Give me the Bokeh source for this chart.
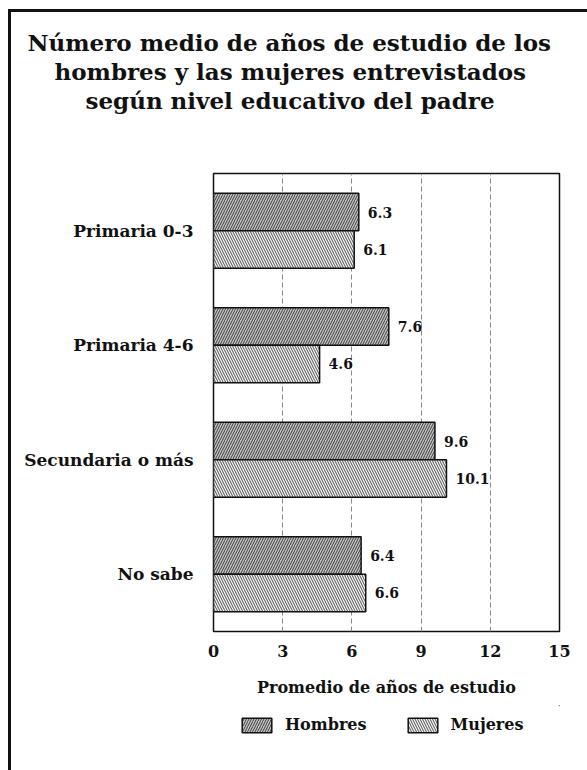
from bokeh.plotting import figure
from bokeh.layouts import column
from bokeh.models import (FactorRange, FixedTicker, Legend, LegendItem, ColumnDataSource,
                          Title, Range1d)
from bokeh.transform import dodge
from bokeh.core.properties import value
from bokeh.embed import file_html
from bokeh.resources import INLINE

# ---- data ----
categories = ["Primaria 0-3", "Primaria 4-6", "Secundaria o más", "No sabe"]
hombres = [6.3, 7.6, 9.6, 6.4]
mujeres = [6.1, 4.6, 10.1, 6.6]
x_ticks = [0, 3, 6, 9, 12, 15]
title_lines = [
    "Número medio de años de estudio de los",
    "hombres y las mujeres entrevistados",
    "según nivel educativo del padre",
]
x_title = "Promedio de años de estudio"
series_names = ["Hombres", "Mujeres"]

FONT = "DejaVu Serif"
INK = "#111111"

H_STYLE = dict(fill_color="#c4c4c4", line_color=INK, line_width=1.5,
               hatch_pattern="/", hatch_color="#3a3a3a", hatch_scale=5, hatch_weight=1)
M_STYLE = dict(fill_color="white", line_color=INK, line_width=1.5,
               hatch_pattern="\\", hatch_color="#6a6a6a", hatch_scale=5, hatch_weight=1.2)

src = ColumnDataSource(dict(
    cat=categories,
    h=hombres,
    m=mujeres,
    hl=[f"{v:.1f}" for v in hombres],
    ml=[f"{v:.1f}" for v in mujeres],
))

p = figure(
    width=587, height=705,
    y_range=FactorRange(factors=list(reversed(categories))),
    x_range=(0, 15),
    output_backend="svg", toolbar_location=None,
    min_border_left=213, min_border_top=173,
    min_border_right=28, min_border_bottom=74,
)
p.title = None
p.background_fill_color = "white"
p.border_fill_alpha = 0
p.outline_line_color = INK
p.outline_line_width = 1.5

bh = 0.327
d = bh / 2
rh = p.hbar(y=dodge("cat", d, range=p.y_range), right="h", left=0, height=bh,
            source=src, **H_STYLE)
rm = p.hbar(y=dodge("cat", -d, range=p.y_range), right="m", left=0, height=bh,
            source=src, **M_STYLE)

for col, lab, off in (("h", "hl", d), ("m", "ml", -d)):
    p.text(x=col, y=dodge("cat", off, range=p.y_range), text=lab, source=src, x_offset=9,
           text_baseline="middle", text_font=value(FONT), text_font_style="bold",
           text_font_size="14px", text_color=INK)

# axes
p.xaxis.ticker = FixedTicker(ticks=x_ticks)
p.xaxis.axis_line_color = None
p.xaxis.major_tick_line_color = None
p.xaxis.minor_tick_line_color = None
p.xaxis.major_tick_out = 0
p.xaxis.major_tick_in = 0
p.xaxis.major_label_standoff = 13
p.xaxis.major_label_text_font = FONT
p.xaxis.major_label_text_font_style = "bold"
p.xaxis.major_label_text_font_size = "16px"
p.xaxis.major_label_text_color = INK
p.xaxis.axis_label = x_title
p.xaxis.axis_label_text_font = FONT
p.xaxis.axis_label_text_font_style = "bold"
p.xaxis.axis_label_text_font_size = "16px"
p.xaxis.axis_label_text_color = INK
p.xaxis.axis_label_standoff = 18

p.yaxis.axis_line_color = None
p.yaxis.major_tick_line_color = None
p.yaxis.major_tick_out = 0
p.yaxis.major_tick_in = 0
p.yaxis.major_label_standoff = 20
p.yaxis.major_label_text_font = FONT
p.yaxis.major_label_text_font_style = "bold"
p.yaxis.major_label_text_font_size = "17px"
p.yaxis.major_label_text_color = INK

p.ygrid.grid_line_color = None
p.xgrid.grid_line_color = "#8a8a8a"
p.xgrid.grid_line_dash = "5 3"
p.xgrid.grid_line_width = 1

# spacer between the frame and the title block
p.add_layout(Title(text=" ", standoff=57, text_font_size="1px"), "above")
# title lines: stacked above the spacer (closest first)
offsets = [-186, -159, -128]
for txt, off in reversed(list(zip(title_lines, offsets))):
    p.add_layout(Title(text=txt, align="left", offset=off, standoff=0,
                       text_font=FONT, text_font_style="bold", text_font_size="23px",
                       text_color=INK), "above")

# ---- legend strip below the chart (frame aligned with the chart frame) ----
lg = figure(width=587, height=65, x_range=Range1d(0, 1), y_range=Range1d(0, 1),
            x_axis_type=None, y_axis_type=None,
            output_backend="svg", toolbar_location=None,
            min_border_left=213, min_border_right=28, min_border_top=0, min_border_bottom=0)
lg.title = None
lg.outline_line_color = None
lg.background_fill_alpha = 0
lg.border_fill_alpha = 0
# legend proxies: one row each, far outside the visible range, so the swatch gets its style
proxy = ColumnDataSource(dict(y=[50], left=[50], right=[51]))
lh = lg.hbar(y="y", right="right", left="left", height=0.3, source=proxy, **H_STYLE)
lm = lg.hbar(y="y", right="right", left="left", height=0.3, source=proxy, **M_STYLE)
legend = Legend(items=[LegendItem(label=series_names[0], renderers=[lh], index=0),
                       LegendItem(label=series_names[1], renderers=[lm], index=0)],
                orientation="horizontal", location=(25, 36),
                glyph_width=37, glyph_height=18, label_height=18,
                label_standoff=10, spacing=37, padding=0, margin=0,
                border_line_color=None, background_fill_alpha=0,
                label_text_font=FONT, label_text_font_style="bold",
                label_text_font_size="16px", label_text_color=INK)
lg.add_layout(legend, "center")

page = column(p, lg, spacing=0)
# outer box border (left and top edges visible), drawn as CSS background lines
page.styles = {
    "background-color": "white",
    "background-image": "linear-gradient(#111,#111), linear-gradient(#111,#111)",
    "background-position": "8px 9px, 8px 9px",
    "background-size": "3px 100%, 100% 3px",
    "background-repeat": "no-repeat",
}

open("out.html", "w").write(file_html(page, INLINE))
